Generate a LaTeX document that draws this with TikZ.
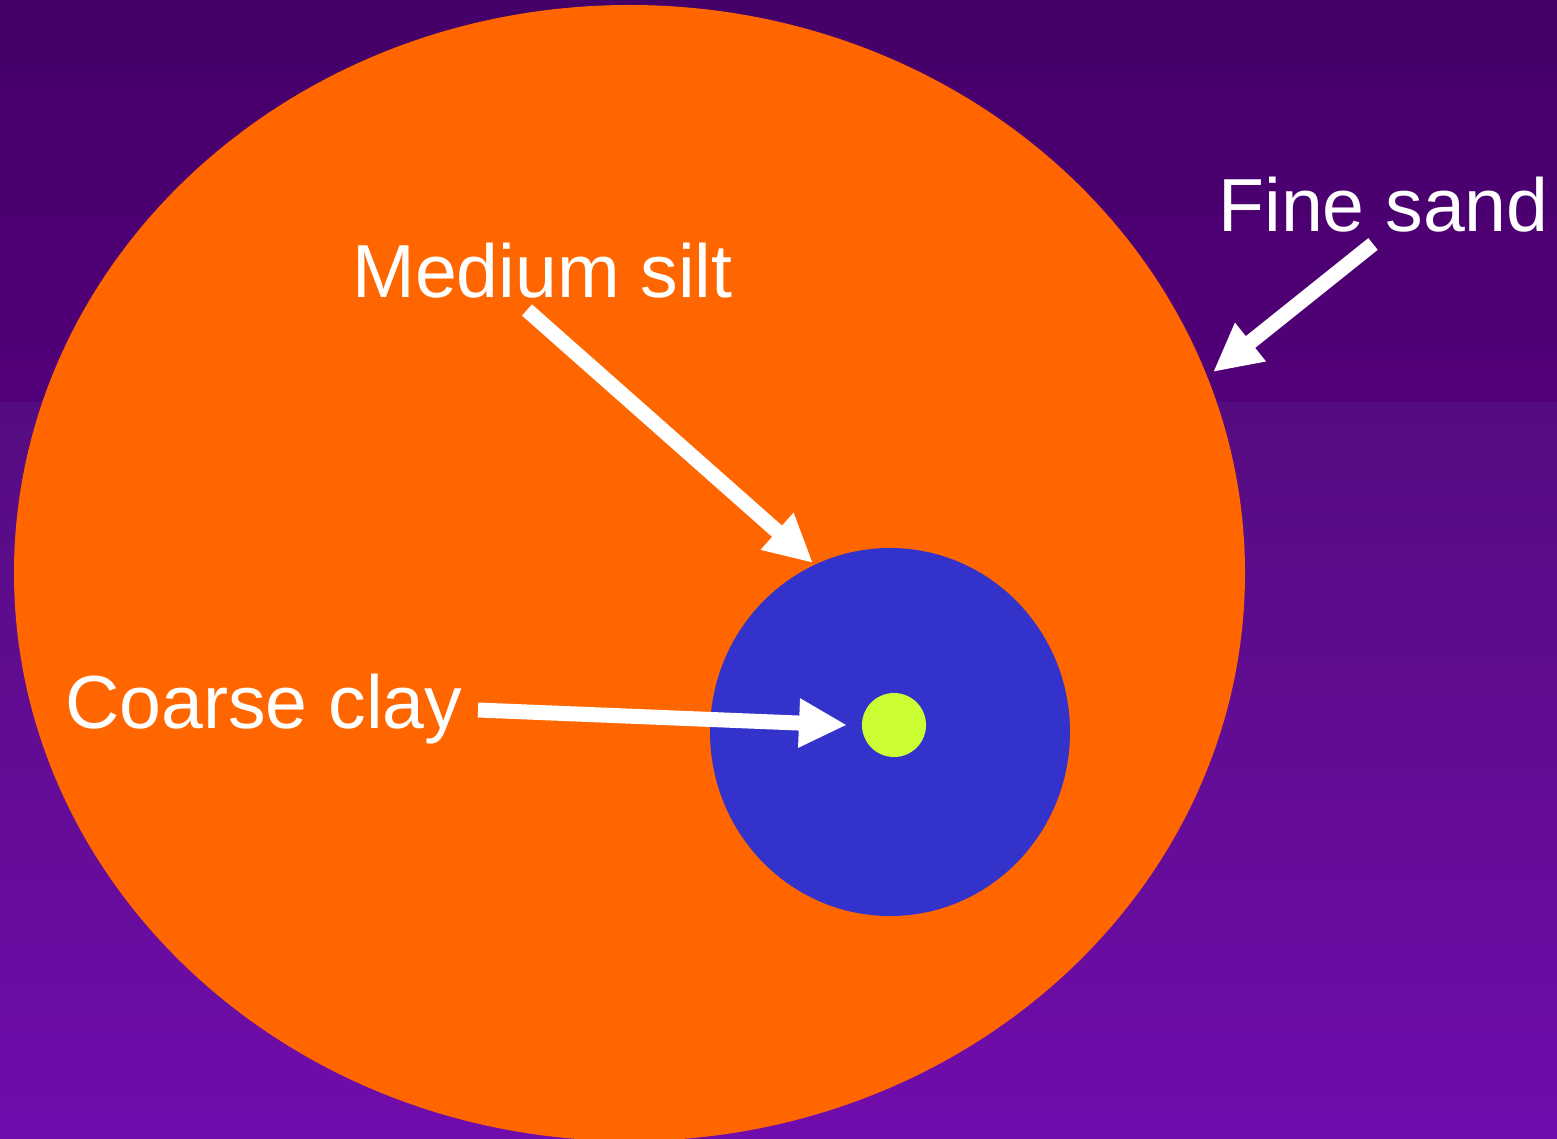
\documentclass[tikz,border=0pt]{standalone}
\usepackage{fontspec}
\setmainfont{Liberation Sans}
\usetikzlibrary{arrows.meta}
\definecolor{bgtopA}{RGB}{68,0,104}
\definecolor{bgtopB}{RGB}{82,0,120}
\definecolor{bgbotA}{RGB}{85,12,128}
\definecolor{bgbotB}{RGB}{112,12,172}
\definecolor{sandorange}{RGB}{255,102,0}
\definecolor{siltblue}{RGB}{51,51,204}
\definecolor{claygreen}{RGB}{204,255,51}
\begin{document}
\begin{tikzpicture}[x=0.5pt,y=-0.5pt,
  label/.style={text=white,font=\fontsize{37.6}{40}\selectfont,inner sep=0pt,anchor=base west},
  pointer/.style={draw=white,line width=7.5pt,-{Triangle[length=24pt,width=23pt]}}]
\useasboundingbox (0,0) rectangle (1557,1139);
\shade[top color=bgtopA,bottom color=bgtopB] (0,0) rectangle (1557,402);
\shade[top color=bgbotA,bottom color=bgbotB] (0,402) rectangle (1557,1139);
\fill[sandorange] (629.5,573) ellipse [x radius=615.5, y radius=568];
\fill[siltblue] (890,732) ellipse [x radius=180, y radius=184];
\fill[claygreen] (894,725) circle [radius=32];
\node[label] (fine) at (1218,232) {Fine sand};
\node[label] (medium) at (352,297) {Medium silt};
\node[label] (coarse) at (65,728) {Coarse clay};
\coordinate (fineS) at (1373,244);
\coordinate (fineT) at (1213,372);
\coordinate (medS) at (527,310);
\coordinate (medT) at (813,563);
\coordinate (coarseS) at (478,710);
\coordinate (coarseT) at (847,725);
\draw[pointer] (fineS) -- (fineT);
\draw[pointer] (medS) -- (medT);
\draw[pointer] (coarseS) -- (coarseT);
\end{tikzpicture}
\end{document}
